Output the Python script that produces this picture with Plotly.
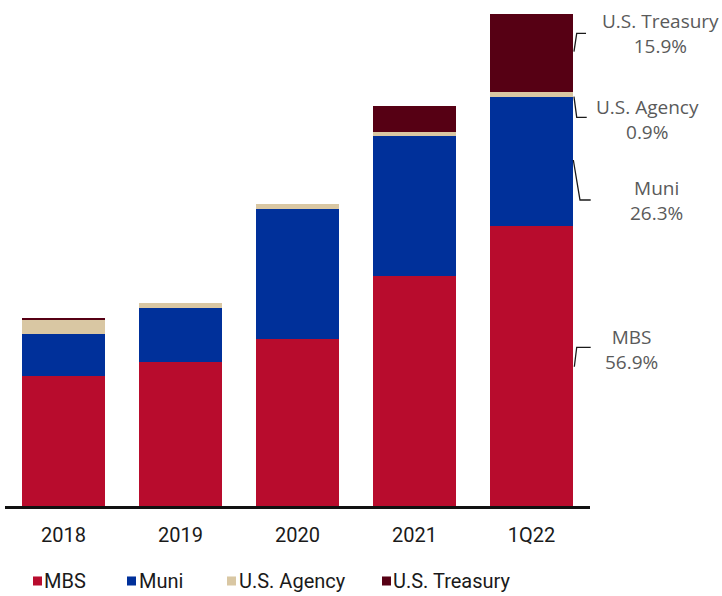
import plotly.graph_objects as go

# Securities portfolio composition by period
categories = ["2018", "2019", "2020", "2021", "1Q22"]
mbs = [13.0, 14.37, 16.73, 23.03, 28.0]
muni = [4.2, 5.46, 12.94, 13.97, 12.94]
agency = [1.4, 0.5, 0.5, 0.37, 0.44]
treasury = [0.15, 0.0, 0.0, 2.63, 7.82]

series_names = ["MBS", "Muni", "U.S. Agency", "U.S. Treasury"]
series_values = [mbs, muni, agency, treasury]
colors = {
    "MBS": "#B80C2D",
    "Muni": "#00309A",
    "U.S. Agency": "#D9C7A3",
    "U.S. Treasury": "#560014",
}

label_font = "Roboto, Liberation Sans, sans-serif"
note_font = "Open Sans, Noto Sans, sans-serif"

fig = go.Figure()
for name, vals in zip(series_names, series_values):
    fig.add_trace(go.Bar(
        x=categories, y=vals, name=name,
        marker=dict(color=colors[name], line=dict(width=0)),
        showlegend=False,
        hovertemplate="%{x}: %{y}<extra>" + name + "</extra>",
    ))

# Share of each series in the latest period, shown on the right
latest_total = sum(v[-1] for v in series_values)
share_positions = {
    "U.S. Treasury": (1.1197, 0.9536),
    "U.S. Agency": (1.0991, 0.7802),
    "Muni": (1.1145, 0.6159),
    "MBS": (1.0701, 0.3165),
}
brackets = {
    "U.S. Treasury": [(0.9726, 0.9159), (0.9773, 0.9530), (0.9932, 0.9530)],
    "U.S. Agency": [(0.9726, 0.8252), (0.9773, 0.7837), (0.9944, 0.7837)],
    "Muni": [(0.9715, 0.6976), (0.9829, 0.6169), (1.0012, 0.6169)],
    "MBS": [(0.9732, 0.2808), (0.9773, 0.3200), (1.0012, 0.3200)],
}

annotations = []
shapes = []
for name, vals in zip(series_names, series_values):
    share = vals[-1] / latest_total * 100
    x, y = share_positions[name]
    annotations.append(dict(
        x=x, y=y, xref="paper", yref="paper",
        text=f"{name}<br>{share:.1f}%",
        showarrow=False, xanchor="center", yanchor="middle", align="center",
        font=dict(family=note_font, size=19, color="#5a5a5a"),
    ))
    pts = brackets[name]
    path = "M " + " L ".join(f"{px},{py}" for px, py in pts)
    shapes.append(dict(
        type="path", path=path, xref="paper", yref="paper",
        line=dict(color="#1a1a1a", width=1.3),
    ))

# Legend drawn as swatches with labels underneath the chart
legend_items = [
    ("MBS", 0.0479, 0.0632),
    ("Muni", 0.2085, 0.2256),
    ("U.S. Agency", 0.3795, 0.3966),
    ("U.S. Treasury", 0.6444, 0.6598),
]
legend_y = -0.1512
for name, x0, tx in legend_items:
    shapes.append(dict(
        type="rect", xref="paper", yref="paper",
        x0=x0, x1=x0 + 0.0154, y0=legend_y - 0.0091, y1=legend_y + 0.0091,
        fillcolor=colors[name], line=dict(width=0),
    ))
    annotations.append(dict(
        x=tx, y=legend_y, xref="paper", yref="paper", text=name,
        showarrow=False, xanchor="left", yanchor="middle",
        font=dict(family=label_font, size=20, color="#1a1a1a"),
    ))

fig.update_layout(
    width=722, height=596,
    margin=dict(l=5, r=132, t=10, b=90),
    paper_bgcolor="white", plot_bgcolor="white",
    barmode="stack", bargap=0.29,
    annotations=annotations, shapes=shapes,
    xaxis=dict(
        showline=True, linecolor="#111111", linewidth=3,
        showgrid=False, zeroline=False, ticks="",
        tickfont=dict(family=label_font, size=20, color="#1a1a1a"),
        ticklabelstandoff=9,
    ),
    yaxis=dict(
        range=[0, 49.6], visible=False, showgrid=False, zeroline=False,
    ),
)

fig.write_html("out.html")
